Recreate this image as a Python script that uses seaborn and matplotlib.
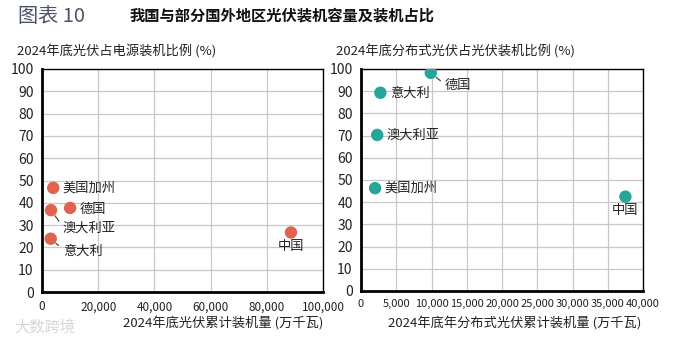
import matplotlib
matplotlib.use("Agg")
import matplotlib.pyplot as plt
import seaborn as sns
import pandas as pd
from matplotlib.ticker import FuncFormatter, MultipleLocator

sns.set_theme(style="white")
plt.rcParams["font.family"] = ["Noto Sans CJK SC", "DejaVu Sans"]

# Left panel: total PV capacity vs. share of PV in power capacity
left_regions = ["美国加州", "德国", "澳大利亚", "意大利", "中国"]
left_capacity = [4000, 10000, 3200, 3100, 88600]
left_share = [46.7, 37.7, 36.7, 23.9, 26.7]

# Right panel: distributed PV capacity vs. share of distributed in PV capacity
right_regions = ["德国", "意大利", "澳大利亚", "美国加州", "中国"]
right_capacity = [9900, 2750, 2300, 2000, 37500]
right_share = [98.3, 89.3, 70.3, 46.3, 42.5]

left_df = pd.DataFrame({"region": left_regions, "x": left_capacity, "y": left_share})
right_df = pd.DataFrame({"region": right_regions, "x": right_capacity, "y": right_share})

W, H = 674, 348
fig = plt.figure(figsize=(W / 100, H / 100), dpi=100)

def rect(x0, x1, y0, y1):
    return [x0 / W, 1 - y1 / H, (x1 - x0) / W, (y1 - y0) / H]

ax1 = fig.add_axes(rect(42, 323, 69, 292))
ax2 = fig.add_axes(rect(361, 643, 69, 291))

thousands = FuncFormatter(lambda v, p: f"{int(v):,}")

def style_axis(ax, xmax, xstep, xfs):
    ax.set_xlim(0, xmax)
    ax.set_ylim(0, 100)
    ax.xaxis.set_major_locator(MultipleLocator(xstep))
    ax.yaxis.set_major_locator(MultipleLocator(10))
    ax.xaxis.set_major_formatter(thousands)
    ax.grid(True, color="#c8c8c8", linewidth=0.9)
    ax.set_axisbelow(True)
    for side in ["top", "right"]:
        ax.spines[side].set_linewidth(1.0)
        ax.spines[side].set_color("black")
    for side in ["left", "bottom"]:
        ax.spines[side].set_linewidth(2.0)
        ax.spines[side].set_color("black")
    ax.tick_params(axis="both", which="major", length=3, width=1, color="black",
                   direction="out", pad=3)
    ax.tick_params(axis="y", labelsize=10, colors="#222222")
    ax.tick_params(axis="x", labelsize=xfs, colors="#222222")
    ax.set_xlabel("")
    ax.set_ylabel("")

sns.scatterplot(data=left_df, x="x", y="y", ax=ax1, color="#e0634f", s=80,
                edgecolor="none", legend=False, zorder=3)
sns.scatterplot(data=right_df, x="x", y="y", ax=ax2, color="#26a598", s=80,
                edgecolor="none", legend=False, zorder=3)

style_axis(ax1, 100000, 20000, 8.5)
style_axis(ax2, 40000, 5000, 8.0)

lab_kw = dict(fontsize=9.5, color="#222222", textcoords="offset pixels")
line_kw = dict(arrowstyle="-", color="#333333", lw=0.8, shrinkA=1, shrinkB=5,
               relpos=(0, 0.6))

def label(ax, df, name, dx, dy, ha="left", leader=False):
    row = df[df.region == name].iloc[0]
    kw = dict(lab_kw)
    if leader:
        kw["arrowprops"] = line_kw
    ax.annotate(name, (row.x, row.y), xytext=(dx, dy), ha=ha, va="center", **kw)

label(ax1, left_df, "美国加州", 9, 0)
label(ax1, left_df, "德国", 10, -1)
label(ax1, left_df, "澳大利亚", 12, -18, leader=True)
label(ax1, left_df, "意大利", 12, -12, leader=True)
label(ax1, left_df, "中国", 0, -14, ha="center")

label(ax2, right_df, "德国", 14, -13, leader=True)
label(ax2, right_df, "意大利", 10, 0)
label(ax2, right_df, "澳大利亚", 9, 0)
label(ax2, right_df, "美国加州", 9, 0)
label(ax2, right_df, "中国", 0, -14, ha="center")

# Axis titles
fig.text(17 / W, 1 - 52 / H, "2024年底光伏占电源装机比例 (%)", fontsize=9.5,
         color="#222222", va="center", ha="left")
fig.text(336 / W, 1 - 52 / H, "2024年底分布式光伏占光伏装机比例 (%)", fontsize=9.5,
         color="#222222", va="center", ha="left")
fig.text(323 / W, 1 - 324 / H, "2024年底光伏累计装机量 (万千瓦)", fontsize=9.5,
         color="#222222", va="center", ha="right")
fig.text(641 / W, 1 - 324 / H, "2024年底年分布式光伏累计装机量 (万千瓦)", fontsize=9.5,
         color="#222222", va="center", ha="right")

# Header
fig.text(18 / W, 1 - 16 / H, "图表 10", fontsize=14.5, color="#4a5265",
         va="center", ha="left")
fig.text(130 / W, 1 - 16 / H, "我国与部分国外地区光伏装机容量及装机占比", fontsize=11,
         color="#111111", fontweight="bold", va="center", ha="left")

# Watermark
fig.text(14 / W, 1 - 327 / H, "大数跨境", fontsize=11, color="#d6d6d6",
         va="center", ha="left")

fig.savefig("out.png", dpi=100)
